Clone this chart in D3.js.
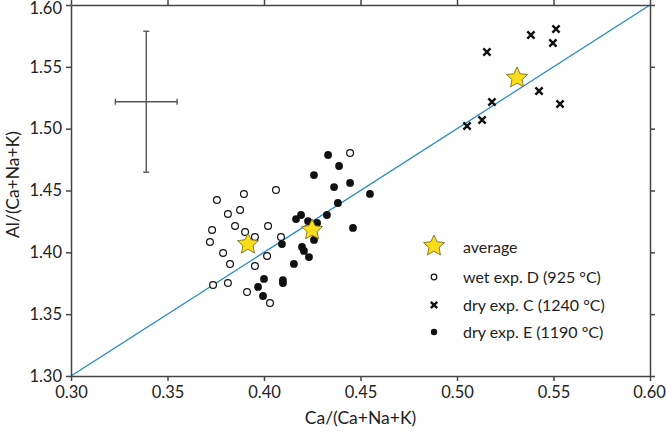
<!DOCTYPE html>
<html><head><meta charset="utf-8">
<script src="https://cdn.jsdelivr.net/npm/d3@7"></script>
<style>
html,body{margin:0;padding:0;background:#fff;}
svg{display:block;}
text{font-family:Lato,"Open Sans",sans-serif;fill:#222;}
</style></head>
<body>
<svg id="chart" width="666" height="433"></svg>
<script>
// ---- data ----
const xTicks = [0.30,0.35,0.40,0.45,0.50,0.55,0.60];
const yTicks = [1.30,1.35,1.40,1.45,1.50,1.55,1.60];
const wetD = [[0.3756,1.4423],[0.3896,1.4472],[0.3813,1.4310],[0.3876,1.4342],[0.3731,1.4181],
  [0.3850,1.4213],[0.3902,1.4164],[0.3953,1.4124],[0.3720,1.4084],[0.3788,1.3995],[0.3824,1.3906],
  [0.3953,1.3889],[0.4021,1.4213],[0.4016,1.3970],[0.3736,1.3736],[0.3813,1.3752],[0.3912,1.3679],
  [0.4031,1.3590],[0.4446,1.4803],[0.4062,1.4504],[0.4088,1.4124]];
const dryE = [[0.4332,1.4787],[0.4389,1.4698],[0.4259,1.4625],[0.4446,1.4561],[0.4363,1.4528],
  [0.4549,1.4472],[0.4383,1.4399],[0.4192,1.4302],[0.4166,1.4269],[0.4228,1.4253],[0.4275,1.4237],
  [0.4326,1.4302],[0.4461,1.4197],[0.4259,1.4100],[0.4093,1.4067],[0.4197,1.4043],[0.4207,1.4011],
  [0.4233,1.3962],[0.4155,1.3906],[0.4000,1.3785],[0.3969,1.3720],[0.4098,1.3776],[0.4098,1.3752],
  [0.3995,1.3647]];
const dryC = [[0.5513,1.5806],[0.5383,1.5757],[0.5497,1.5693],[0.5155,1.5620],[0.5425,1.5304],
  [0.5534,1.5199],[0.5181,1.5216],[0.5130,1.5070],[0.5052,1.5021]];
const averages = [[0.3917,1.4067],[0.4249,1.4181],[0.5311,1.5410]];
const refLine = [[0.30,1.30],[0.60,1.60]];
const errBar = {x:0.339, y:1.5218, dx:0.016, dy:0.057};
const legendItems = ["average","wet exp. D (925 °C)","dry exp. C (1240 °C)","dry exp. E (1190 °C)"];

// ---- layout ----
const svg = d3.select("#chart");
const L=71, R=650, T=5, B=376;
const x = d3.scaleLinear().domain([0.30,0.60]).range([L,R]);
const y = d3.scaleLinear().domain([1.30,1.60]).range([B,T]);
const axisCol = "#444";

function starPath(Ro, Ri){
  const pts=[];
  for(let i=0;i<10;i++){
    const r = i%2===0?Ro:Ri;
    const a = -Math.PI/2 + i*Math.PI/5;
    pts.push([r*Math.cos(a), r*Math.sin(a)]);
  }
  return "M"+pts.map(p=>p[0].toFixed(2)+","+p[1].toFixed(2)).join("L")+"Z";
}
const star = starPath(11,5.3);

// reference line
svg.append("path").datum(refLine)
  .attr("d", d3.line().x(d=>x(d[0])).y(d=>y(d[1])))
  .attr("stroke","#2a8ac6").attr("stroke-width",1.4).attr("fill","none");

// axes
function styleAxis(g){
  g.selectAll(".domain").attr("stroke",axisCol).attr("stroke-width",1.5);
  g.selectAll(".tick line").attr("stroke",axisCol).attr("stroke-width",1.5);
  g.selectAll(".tick text").style("font-size","16.5px").attr("fill","#222");
}
const fmt = d3.format(".2f");
const xAx = svg.append("g").attr("transform",`translate(0,${B})`)
  .call(d3.axisBottom(x).tickValues(xTicks).tickFormat(fmt).tickSize(5).tickSizeOuter(0).tickPadding(5))
  .call(styleAxis);
xAx.selectAll(".tick text").filter(d=>d===0.60).attr("dx","-1px");
const yAx = svg.append("g").attr("transform",`translate(${L},0)`)
  .call(d3.axisLeft(y).tickValues(yTicks).tickFormat(fmt).tickSize(5).tickSizeOuter(0).tickPadding(4))
  .call(styleAxis);
yAx.selectAll(".tick text").filter(d=>d===1.60).attr("dy","0.5em");
svg.append("g").attr("transform",`translate(0,${T})`)
  .call(d3.axisTop(x).tickValues(xTicks).tickFormat("").tickSize(5).tickSizeOuter(0))
  .call(styleAxis);
svg.append("g").attr("transform",`translate(${R},0)`)
  .call(d3.axisRight(y).tickValues(yTicks).tickFormat("").tickSize(5).tickSizeOuter(0))
  .call(styleAxis);

// axis titles
svg.append("text").attr("x",(L+R)/2).attr("y",424).attr("text-anchor","middle")
  .style("font-size","17.5px").text("Ca/(Ca+Na+K)");
svg.append("text").attr("transform",`translate(19,${(T+B)/2 - 6}) rotate(-90)`).attr("text-anchor","middle")
  .style("font-size","17.5px").text("Al/(Ca+Na+K)");

// error bar
const eb = svg.append("g").attr("stroke","#555").attr("stroke-width",1.4);
eb.append("line").attr("x1",x(errBar.x)).attr("x2",x(errBar.x)).attr("y1",y(errBar.y+errBar.dy)).attr("y2",y(errBar.y-errBar.dy));
eb.append("line").attr("x1",x(errBar.x-errBar.dx)).attr("x2",x(errBar.x+errBar.dx)).attr("y1",y(errBar.y)).attr("y2",y(errBar.y));
[errBar.y+errBar.dy, errBar.y-errBar.dy].forEach(v=>eb.append("line")
  .attr("x1",x(errBar.x)-3).attr("x2",x(errBar.x)+3).attr("y1",y(v)).attr("y2",y(v)));
[errBar.x-errBar.dx, errBar.x+errBar.dx].forEach(v=>eb.append("line")
  .attr("x1",x(v)).attr("x2",x(v)).attr("y1",y(errBar.y)-3).attr("y2",y(errBar.y)+3));

// markers
function cross(g, cx, cy, s){
  g.append("path").attr("d",`M${cx-s},${cy-s}L${cx+s},${cy+s}M${cx-s},${cy+s}L${cx+s},${cy-s}`)
   .attr("stroke","#111").attr("stroke-width",2.4).attr("fill","none");
}
const pts = svg.append("g");
pts.selectAll("circle.wet").data(wetD).join("circle").attr("class","wet")
  .attr("cx",d=>x(d[0])).attr("cy",d=>y(d[1])).attr("r",3.4)
  .attr("fill","#fff").attr("stroke","#111").attr("stroke-width",1.2);
pts.selectAll("circle.dry").data(dryE).join("circle").attr("class","dry")
  .attr("cx",d=>x(d[0])).attr("cy",d=>y(d[1])).attr("r",3.9).attr("fill","#111");
dryC.forEach(d=>cross(pts, x(d[0]), y(d[1]), 3.6));
pts.selectAll("path.star").data(averages).join("path").attr("class","star")
  .attr("d",star).attr("transform",d=>`translate(${x(d[0])},${y(d[1])})`)
  .attr("fill","#fbdc1a").attr("stroke","#6b5e20").attr("stroke-width",0.8);

// legend
const lg = svg.append("g");
const lx=434, tx=463, ly=[247,277,305,332];
lg.append("path").attr("d",star).attr("transform",`translate(${lx},${ly[0]-1})`)
  .attr("fill","#fbdc1a").attr("stroke","#6b5e20").attr("stroke-width",0.8);
lg.append("circle").attr("cx",lx).attr("cy",ly[1]).attr("r",2.8).attr("fill","#fff").attr("stroke","#111").attr("stroke-width",1.2);
cross(lg, lx, ly[2], 3.2);
lg.append("circle").attr("cx",lx).attr("cy",ly[3]).attr("r",3.2).attr("fill","#111");
legendItems.forEach((t,i)=>lg.append("text").attr("x",tx).attr("y",ly[i]).attr("dy","0.35em")
  .style("font-size","16px").text(t));
</script>
</body></html>
